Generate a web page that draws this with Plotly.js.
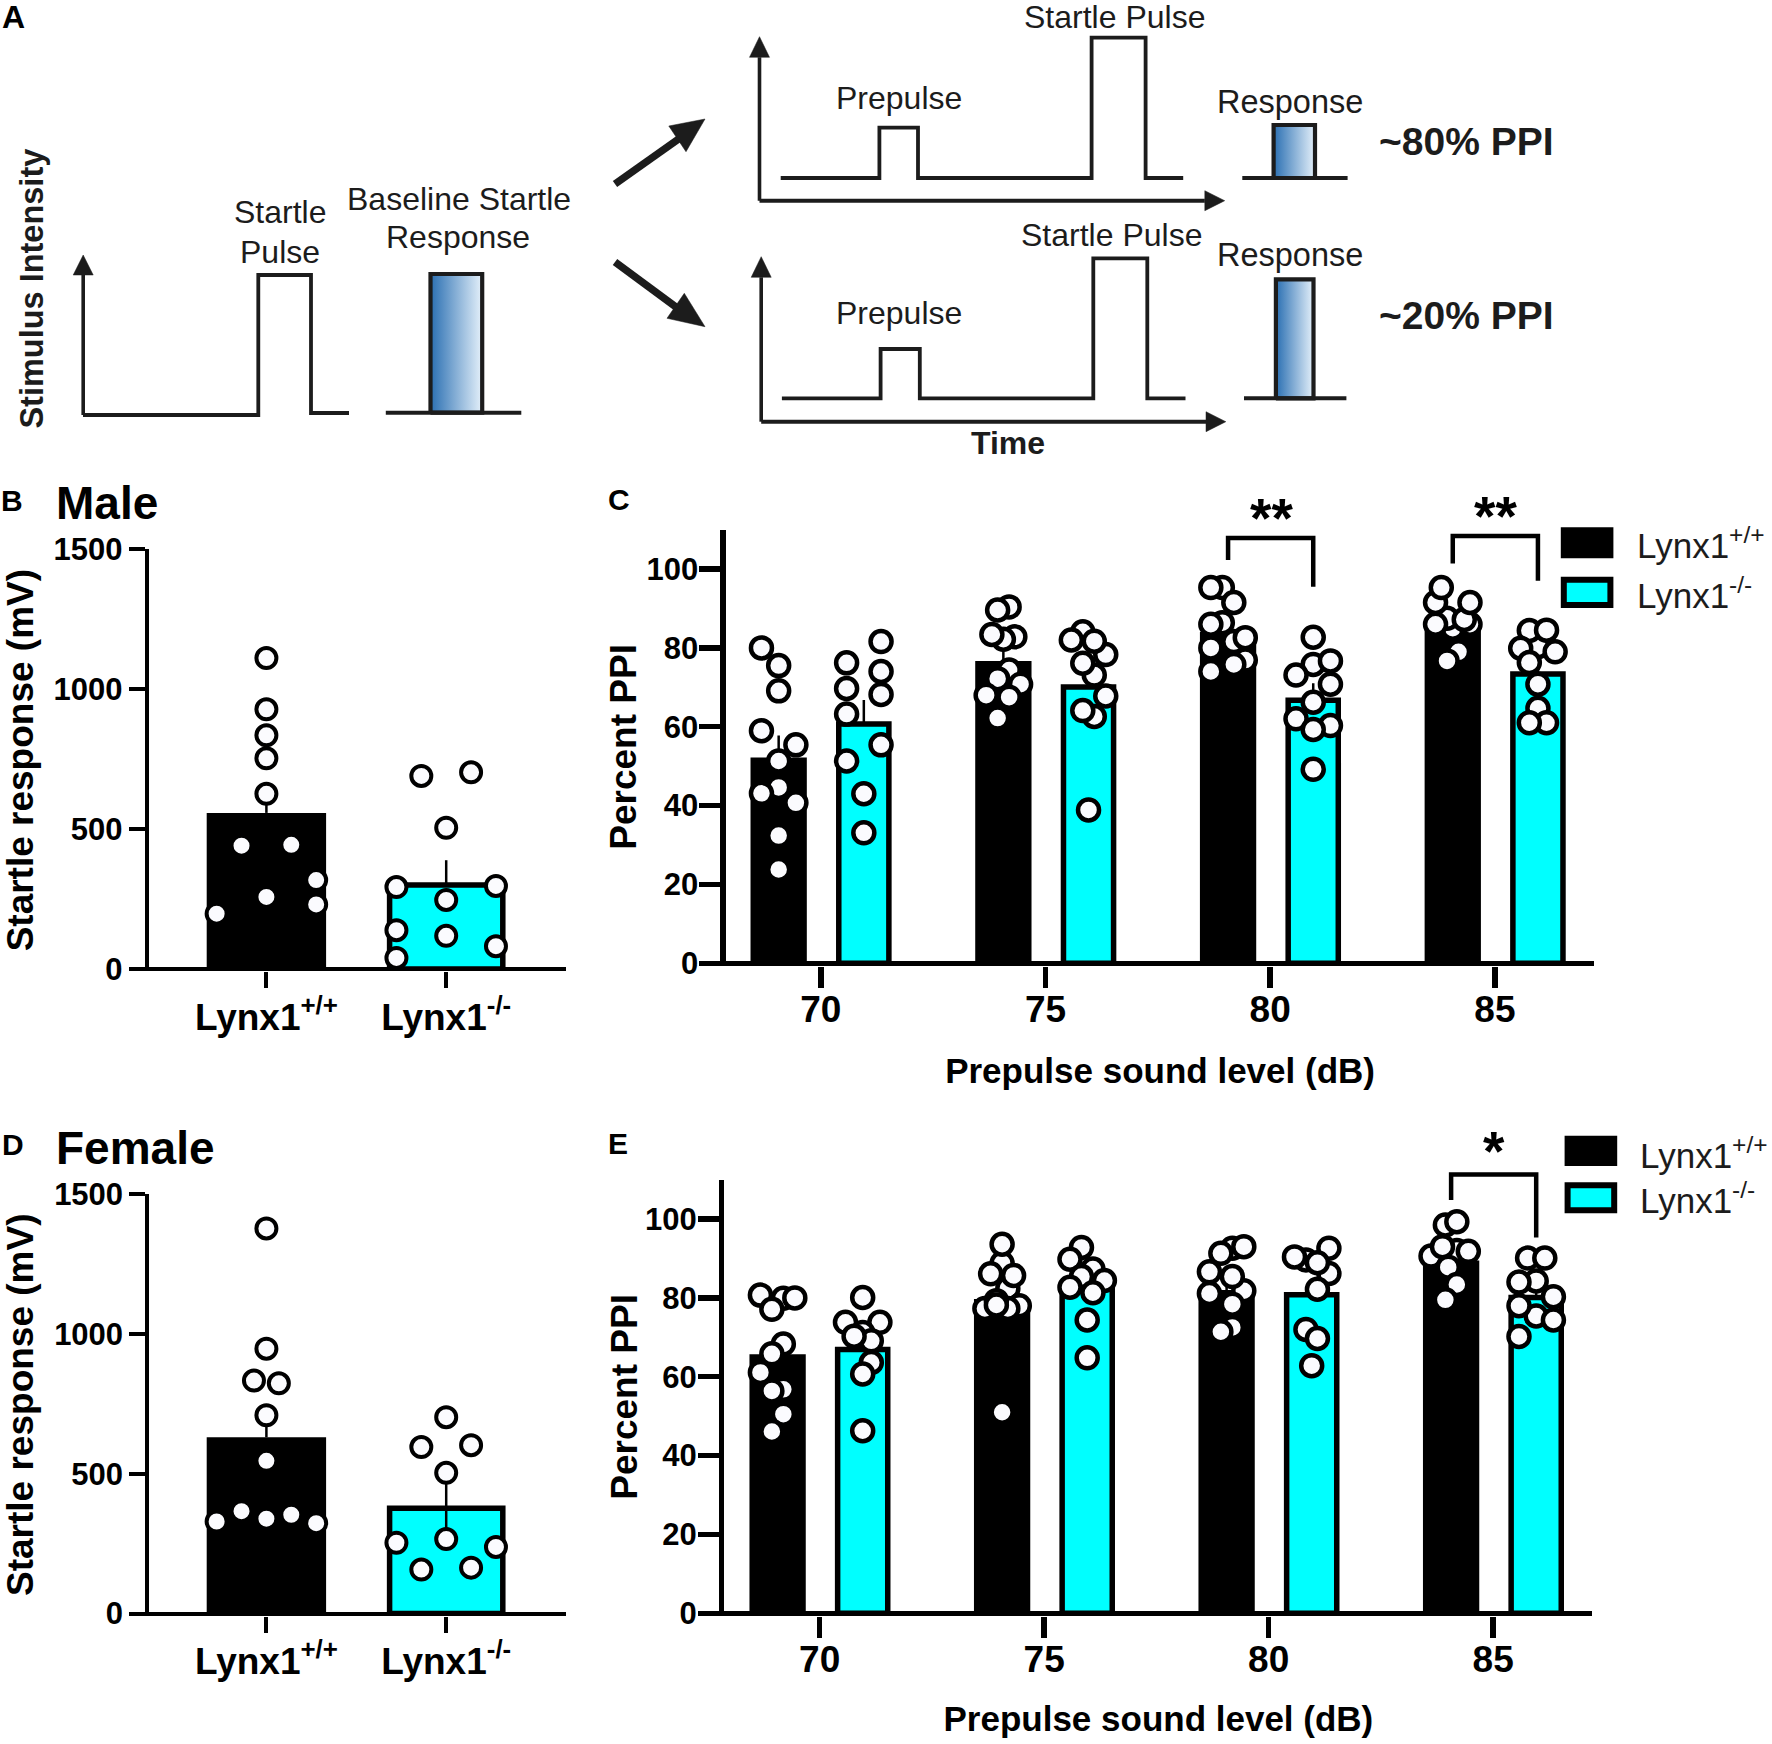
<!DOCTYPE html>
<html><head><meta charset="utf-8">
<script src="https://cdn.plot.ly/plotly-3.0.1.min.js"></script>
<style>html,body{margin:0;padding:0;background:#fff}#c{width:1772px;height:1744px}</style>
</head><body><div id="c"></div>
<script>
// ---------- categories / tick labels ----------
const genotypes = ["Lynx1<sup>+/+</sup>", "Lynx1<sup>-/-</sup>"];
const soundLevels = ["70", "75", "80", "85"];

// ---------- B: male startle ----------
const maleStartleMeans = [558, 300];
const maleStartleSem = [90, 89];
const maleStartleWT = [1111, 928, 835, 753, 626, 441, 444, 318, 258, 231, 198];
const maleStartleWTCol = [0, 0, 0, 0, 0, -1, 1, 2, 0, 2, -2];
const maleStartleKO = [690, 703, 505, 293, 297, 247, 139, 119, 82, 40];
const maleStartleKOCol = [-1, 1, 0, -2, 2, 0, -2, 0, 2, -2];

// ---------- D: female startle ----------
const femaleStartleMeans = [630, 376];
const femaleStartleSem = [100, 120];
const femaleStartleWT = [1377, 947, 833, 823, 709, 546, 366, 353, 339, 329, 323];
const femaleStartleWTCol = [0, 0, -0.5, 0.5, 0, 0, -1, 1, 0, -2, 2];
const femaleStartleKO = [702, 595, 602, 503, 266, 253, 238, 164, 157];
const femaleStartleKOCol = [0, -1, 1, 0, 0, -2, 2, 1, -1];

// ---------- C: male PPI ----------
const malePpiWTMeans = [52.2, 76.7, 84, 85.5];
const malePpiKOMeans = [60.7, 70.1, 66.7, 73.4];
const malePpiWTSem = [5.6, 3, 3, 2.5];
const malePpiKOSem = [6.1, 3, 4.3, 3];
const mWT70 = [80, 75.5, 69.1, 59, 55.4, 51.3, 44.6, 43.1, 40.7, 32.4, 23.8];
const mWT70c = [-3, 0, 0, -3, 3, 0, 0, -3, 3, 0, 0];
const mKO70 = [81.6, 76.2, 74, 69.7, 68.2, 63.2, 55.4, 51.3, 43, 33.1];
const mKO70c = [3, -3, 3, -3, 3, -3, 3, -3, 0, 0];
const mWT75 = [90.4, 89.6, 82.8, 82.2, 83.4, 74.4, 70.8, 72.2, 68, 67.5, 62.2];
const mWT75c = [1, -1, 2, 0, -2, 1, 3, -1, -3, 1, -1];
const mKO75 = [84.1, 78.3, 82, 81.7, 73.1, 76.1, 62.6, 67.8, 64.1, 38.9];
const mKO75c = [-1, 3, -3, 1, 1, -1, 1, 3, -1, 0];
const mWT80 = [95.3, 95.3, 91.5, 86.4, 86, 81.6, 82.6, 80, 76.9, 75.8, 74];
const mWT80c = [-1, -3, 1, -1, -3, 1, 3, -3, 3, 1, -3];
const mKO80 = [82.7, 75.8, 76.7, 73.1, 70.8, 66.2, 62, 60.3, 59.3, 49.2];
const mKO80c = [0, 0, 3, -3, 3, 0, -3, 3, 0, 0];
const mWT85 = [85, 86, 87.5, 87.2, 86, 91.5, 91.5, 95.3, 79, 76.7];
const mWT85c = [0, 3, -1, 2, -3, -3, 3, -2, 1, -1];
const mKO85 = [80.3, 84.4, 84.5, 79.9, 79, 76.3, 70.8, 64.7, 61, 61];
const mKO85c = [0, -1.5, 1.5, -3, 3, -1.5, 0, 0, 1.5, -1.5];

// ---------- E: female PPI ----------
const femalePpiWTMeans = [65.7, 79.7, 82, 89.5];
const femalePpiKOMeans = [66.9, 82.3, 80.8, 80.1];
const femalePpiWTSem = [4, 3.5, 3.5, 2.5];
const femalePpiKOSem = [3, 3, 3, 2.5];
const fWT70 = [80.7, 79.9, 80, 77.1, 68.3, 65.8, 61.1, 56.8, 56.4, 50.5, 46.1];
const fWT70c = [-3, 1, 3, -1, 1, -1, -3, 1, -1, 1, -1];
const fKO70 = [80.1, 73.8, 73.8, 71.2, 69.1, 70.3, 63.6, 60.7, 46.3];
const fKO70c = [0, -3, 3, 0, 1.5, -1.5, 1.5, 0, 0];
const fWT75 = [88.8, 93.6, 82.4, 86.1, 85.7, 77.3, 78, 77.3, 79.3, 78.2, 51];
const fWT75c = [0, 0, 1, -2, 2, -3, 3, 1, -1, -1, 0];
const fKO75 = [92.8, 89.8, 87.3, 85.4, 84.4, 82.7, 81.3, 74.4, 64.8];
const fKO75c = [-1, -3, 1, -1, 3, -3, 1, 0, 0];
const fWT80 = [92.6, 93, 91.3, 81.8, 86.6, 85.4, 81.1, 78.4, 72.5, 71.4];
const fWT80c = [1, 3, -1, 3, -3, 1, -3, 1, 1, -1];
const fKO80 = [89.6, 92.6, 90.4, 86.2, 88.9, 82.2, 72, 69.7, 62.8];
const fKO80c = [-1, 3, -3, 3, 1, 1, -1, 1, 0];
const fWT85 = [98.5, 99.3, 90.6, 92, 91.8, 93, 87.8, 83.4, 79.5];
const fWT85c = [-1, 1, -3.5, 1, 3, -1.5, -0.5, 1, -1];
const fKO85 = [84.3, 90.1, 90.1, 84, 80.3, 75.4, 78, 74.4, 70.2];
const fKO85c = [0, -1.5, 1.5, -3, 3, 0, -3, 3, -3];

// ---------- significance brackets (group index, top, left foot, right foot) ----------
const malePpiBrackets = [[2, 107.9, 102.3, 95.5], [3, 108.4, 101.4, 97]];
const femalePpiBrackets = [[3, 111.3, 104.8, 95.3]];

// ---------- A: schematic (drawn on a full-page hidden scale) ----------
const waveLeftX = [83, 258.3, 258.3, 311, 311, 349];
const waveLeftY = [415, 415, 275, 275, 413, 413];
const waveTopX = [780.7, 879.4, 879.4, 918, 918, 1091.6, 1091.6, 1145.6, 1145.6, 1183.2];
const waveTopY = [178, 178, 127.7, 127.7, 178, 178, 37.7, 37.7, 178, 178];
const waveBotX = [781.9, 880.6, 880.6, 919.8, 919.8, 1093.3, 1093.3, 1147.3, 1147.3, 1185.5];
const waveBotY = [398.3, 398.3, 349, 349, 398.3, 398.3, 258.3, 258.3, 398.3, 398.3];
const responseBoxes = [[430.5, 482.2, 274, 412.7, 385.8, 521.3], [1273.6, 1315, 125, 178, 1242.3, 1347.6], [1275.9, 1313.5, 279.3, 398.3, 1244, 1346.4]];
const axesVert = [[83.2, 415, 275, 255], [759.5, 200.7, 57.3, 36.7], [761.2, 421.7, 277.3, 256.7]];
const axesHoriz = [[759.5, 200.7, 1204.8, 1224.7], [761.2, 421.7, 1206, 1225.8]];
const bigArrowUp = { x: [615, 680], y: [184, 138], hx: [705, 668.8, 686, 705], hy: [119, 126, 151.7, 119] };
const bigArrowDown = { x: [615, 680], y: [262, 310], hx: [705, 684.3, 667, 705], hy: [326.7, 293.3, 318.3, 326.7] };

const W = 1772, H = 1744;
const INK = "#000", CYAN = "#00ffff", DOT = "#fbfbfe", SCH = "#1c1c1c";
const FONT = "'Liberation Sans', Arial, sans-serif";

// Panel geometry in page pixels
const panels = {
  B: { n: "", axisX: 146.6, right: 566, zero: 969.1, top: 549.2, topVal: 1500, lw: 4, t0: 266.4, dt: 179.8, t0v: 1, colUnit: 0.1384 },
  C: { n: "2", axisX: 723.2, right: 1594.2, zero: 963.3, top: 529.6, topVal: 110, lw: 5.5, t0: 820.8, dt: 224.7, t0v: 0, colUnit: 0.02555 },
  D: { n: "3", axisX: 147.3, right: 566, zero: 1613.5, top: 1194, topVal: 1500, lw: 4, t0: 266.4, dt: 179.8, t0v: 1, colUnit: 0.1384 },
  E: { n: "4", axisX: 721.7, right: 1592.3, zero: 1613.3, top: 1179.6, topVal: 110, lw: 5.5, t0: 819.7, dt: 224.5, t0v: 0, colUnit: 0.02555 }
};
const layout = {
  width: W, height: H, margin: { l: 0, r: 0, t: 0, b: 0 }, paper_bgcolor: "#fff", plot_bgcolor: "rgba(0,0,0,0)",
  showlegend: false, font: { family: FONT, color: INK }, annotations: [], shapes: [], hovermode: false
};
function makeAxes(p, xvals, xtext, yvals, ytitle, xtitle, o) {
  const left = p.axisX + p.lw / 2, bottom = p.zero + p.lw / 2;
  const pxPerUnit = (p.zero - p.top) / p.topVal;
  layout["xaxis" + p.n] = {
    domain: [left / W, p.right / W], anchor: "y" + p.n,
    range: [p.t0v + (left - p.t0) / p.dt, p.t0v + (p.right - p.t0) / p.dt],
    showgrid: false, zeroline: false, showline: false, ticks: "outside", ticklen: o.xlen, tickwidth: p.lw, tickcolor: INK,
    tickvals: xvals, ticktext: xtext, tickmode: "array", ticklabelstandoff: o.xlabelOff,
    tickfont: { family: FONT, size: o.xfont, color: INK, weight: 700 },
    title: xtitle ? { text: xtitle, font: { family: FONT, size: 35, color: INK, weight: 700 }, standoff: o.xstand } : undefined
  };
  layout["yaxis" + p.n] = {
    domain: [1 - bottom / H, 1 - p.top / H], anchor: "x" + p.n,
    range: [-(p.lw / 2) / pxPerUnit, p.topVal],
    showgrid: false, zeroline: true, zerolinecolor: INK, zerolinewidth: p.lw,
    showline: true, linecolor: INK, linewidth: p.lw, ticks: "outside", ticklen: o.ylen, tickwidth: p.lw, tickcolor: INK,
    tickvals: yvals, ticktext: yvals.map(String), tickmode: "array", ticklabelstandoff: o.ylabelOff,
    tickfont: { family: FONT, size: o.yfont, color: INK, weight: 700 },
    title: ytitle ? { text: ytitle, font: { family: FONT, size: 37, color: INK, weight: 700 }, standoff: o.ystand } : undefined
  };
}
const traces = [];
function barTrace(p, xs, ys, sem, widthPx, filled, minus) {
  traces.push({
    type: "bar", xaxis: "x" + p.n, yaxis: "y" + p.n, x: xs, y: ys, width: widthPx / p.dt, hoverinfo: "skip",
    marker: filled ? { color: CYAN, line: { color: INK, width: 5.5 } } : { color: INK, line: { width: 0 } },
    error_y: { type: "data", symmetric: false, array: sem, arrayminus: minus || sem.map(() => 0), color: INK, thickness: 2.5, width: 0 },
    cliponaxis: false
  });
}
function dots(p, centre, vals, cols, size, lw) {
  traces.push({
    type: "scatter", mode: "markers", xaxis: "x" + p.n, yaxis: "y" + p.n, hoverinfo: "skip", cliponaxis: false,
    x: cols.map(c => centre + c * p.colUnit), y: vals,
    marker: { size: size, color: DOT, opacity: 1, line: { color: INK, width: lw } }
  });
}
// Startle panels
[[panels.B, maleStartleMeans, maleStartleSem, maleStartleWT, maleStartleWTCol, maleStartleKO, maleStartleKOCol, null, 11],
 [panels.D, femaleStartleMeans, femaleStartleSem, femaleStartleWT, femaleStartleWTCol, femaleStartleKO, femaleStartleKOCol, [90], 14]
].forEach(([p, m, s, wt, wtc, ko, koc, minus, stand]) => {
  makeAxes(p, [1, 2], genotypes, [0, 500, 1000, 1500], "Startle response (mV)", null,
    { xlen: 16, ylen: 16, ystand: stand, xfont: 37, yfont: 31, xlabelOff: -3, ylabelOff: 0 });
  barTrace(p, [1], [m[0]], [s[0]], 119.4, false);
  barTrace(p, [2], [m[1]], [s[1]], 113.2, true, minus);
  dots(p, 1, wt, wtc, 20, 4);
  dots(p, 2, ko, koc, 20, 4);
});
// PPI panels
const WT_OFF = -0.1875, KO_OFF = 0.1915;
const schematicBrackets = [];
[[panels.C, malePpiWTMeans, malePpiKOMeans, malePpiWTSem, malePpiKOSem,
  [[mWT70, mWT70c], [mWT75, mWT75c], [mWT80, mWT80c], [mWT85, mWT85c]],
  [[mKO70, mKO70c], [mKO75, mKO75c], [mKO80, mKO80c], [mKO85, mKO85c]], malePpiBrackets, 29],
 [panels.E, femalePpiWTMeans, femalePpiKOMeans, femalePpiWTSem, femalePpiKOSem,
  [[fWT70, fWT70c], [fWT75, fWT75c], [fWT80, fWT80c], [fWT85, fWT85c]],
  [[fKO70, fKO70c], [fKO75, fKO75c], [fKO80, fKO80c], [fKO85, fKO85c]], femalePpiBrackets, 27]
].forEach(([p, wm, km, ws, ks, wp, kp, br, xstand]) => {
  makeAxes(p, [0, 1, 2, 3], soundLevels, [0, 20, 40, 60, 80, 100], null, "Prepulse sound level (dB)",
    { xlen: 21, ylen: 21, xstand: xstand, xfont: 37, yfont: 31, xlabelOff: -10, ylabelOff: -5 });
  barTrace(p, soundLevels.map((_, i) => i + WT_OFF), wm, ws, 56.3, false);
  barTrace(p, soundLevels.map((_, i) => i + KO_OFF), km, ks, 50.1, true);
  wp.forEach((d, i) => dots(p, i + WT_OFF, d[0], d[1], 21, 4.5));
  kp.forEach((d, i) => dots(p, i + KO_OFF, d[0], d[1], 21, 4.5));
  // brackets reach above the axis range, so they go on the unclipped full-page scale
  const px = v => p.t0 + v * p.dt, py = v => p.zero - v * (p.zero - p.top) / p.topVal;
  br.forEach(b => schematicBrackets.push({
    x: [b[0] + WT_OFF, b[0] + WT_OFF, b[0] + KO_OFF, b[0] + KO_OFF].map(px),
    y: [b[2], b[1], b[1], b[3]].map(py)
  }));
});

// Full-page hidden scale for schematic, legends and labels
layout.xaxis5 = { domain: [0, 1], range: [0, W], visible: false, anchor: "y5", fixedrange: true };
layout.yaxis5 = { domain: [0, 1], range: [H, 0], visible: false, anchor: "x5", fixedrange: true };
function sch(x, y, w, extra) {
  traces.push(Object.assign({ type: "scatter", mode: "lines", xaxis: "x5", yaxis: "y5", hoverinfo: "skip", x: x, y: y, line: { color: SCH, width: w } }, extra || {}));
}
function tri(x, y) { sch(x, y, 0.5, { fill: "toself", fillcolor: SCH }); }
sch(waveLeftX, waveLeftY, 3.8); sch(waveTopX, waveTopY, 3.8); sch(waveBotX, waveBotY, 3.8);
axesVert.forEach(a => {
  sch([a[0], a[0]], [a[1], a[2]], 3.6);
  tri([a[0] - 10, a[0] + 10, a[0], a[0] - 10], [a[2], a[2], a[3], a[2]]);
});
axesHoriz.forEach(a => {
  sch([a[0], a[2]], [a[1], a[1]], 4);
  tri([a[2], a[2], a[3], a[2]], [a[1] - 10, a[1] + 10, a[1], a[1] - 10]);
});
responseBoxes.forEach(b => {
  traces.push({
    type: "scatter", mode: "lines", xaxis: "x5", yaxis: "y5", hoverinfo: "skip",
    x: [b[0], b[1], b[1], b[0], b[0]], y: [b[3], b[3], b[2], b[2], b[3]],
    fill: "toself", line: { color: SCH, width: 4.2 },
    fillgradient: { type: "horizontal", colorscale: [[0, "#2a6fb2"], [1, "#e4f0fa"]] }
  });
  sch([b[4], b[5]], [b[3], b[3]], 4);
});
[bigArrowUp, bigArrowDown].forEach(a => { sch(a.x, a.y, 7.5); tri(a.hx, a.hy); });
schematicBrackets.forEach(b => traces.push({
  type: "scatter", mode: "lines", xaxis: "x5", yaxis: "y5", hoverinfo: "skip", x: b.x, y: b.y, line: { color: INK, width: 4.5 }
}));

// Text
function txt(text, x, y, size, bold, opt) {
  layout.annotations.push(Object.assign({
    text: text, xref: "x5", yref: "y5", x: x, y: y, showarrow: false, xanchor: "center", yanchor: "middle",
    font: { family: FONT, size: size, color: SCH, weight: bold ? 700 : 400 }
  }, opt || {}));
}
const blackBold = s => ({ font: { family: FONT, size: s, color: INK, weight: 700 } });
txt("A", 13, 17, 32, true, blackBold(32));
txt("B", 12, 500, 30, true, blackBold(30));
txt("C", 619, 499, 30, true, blackBold(30));
txt("D", 13, 1144, 30, true, blackBold(30));
txt("E", 618, 1143, 30, true, blackBold(30));
txt("Male", 54, 503, 46, true, Object.assign({ xanchor: "left" }, blackBold(46)));
txt("Female", 54, 1148, 46, true, Object.assign({ xanchor: "left" }, blackBold(46)));
txt("Percent PPI", 624, 746.7, 37, true, Object.assign({ textangle: -90 }, blackBold(37)));
txt("Percent PPI", 625, 1396.7, 37, true, Object.assign({ textangle: -90 }, blackBold(37)));
txt("Stimulus Intensity", 31.6, 289, 32.5, true, { textangle: -90 });
txt("Startle", 279.6, 212, 32); txt("Pulse", 279.6, 251.7, 32);
txt("Baseline Startle", 458.7, 199, 32); txt("Response", 458, 237, 32);
txt("Prepulse", 898.8, 98, 32); txt("Startle Pulse", 1114, 17.3, 32); txt("Response", 1289.5, 101.7, 32.5);
txt("~80% PPI", 1466.7, 141.7, 39, true);
txt("Prepulse", 898.8, 313.3, 32); txt("Startle Pulse", 1111.5, 235, 32); txt("Response", 1289.5, 255, 32.5);
txt("~20% PPI", 1466.7, 315, 39, true);
txt("Time", 1008, 442.7, 32, true);
txt("**", 1271, 518, 55, true, blackBold(55)); txt("**", 1495.5, 516, 55, true, blackBold(55)); txt("*", 1494.4, 1151, 55, true, blackBold(55));

// Legends
const legendRows = [
  [1560.8, 527.3, 558.3, 576.7, 608, 1634.6, 543, 593],
  [1564.6, 1135.7, 1166, 1182.3, 1213.3, 1638.4, 1153, 1198]
];
legendRows.forEach(r => {
  layout.shapes.push({ type: "rect", xref: "x5", yref: "y5", x0: r[0], x1: r[0] + 52.6, y0: r[1], y1: r[2], fillcolor: INK, line: { width: 0 } });
  layout.shapes.push({ type: "rect", xref: "x5", yref: "y5", x0: r[0] + 3, x1: r[0] + 49.6, y0: r[3] + 3, y1: r[4] - 3, fillcolor: CYAN, line: { color: INK, width: 6 } });
  txt(genotypes[0], r[5], r[6], 35, false, { xanchor: "left" });
  txt(genotypes[1], r[5], r[7], 35, false, { xanchor: "left" });
});

Plotly.newPlot("c", traces, layout, { displayModeBar: false, staticPlot: true });
</script></body></html>
